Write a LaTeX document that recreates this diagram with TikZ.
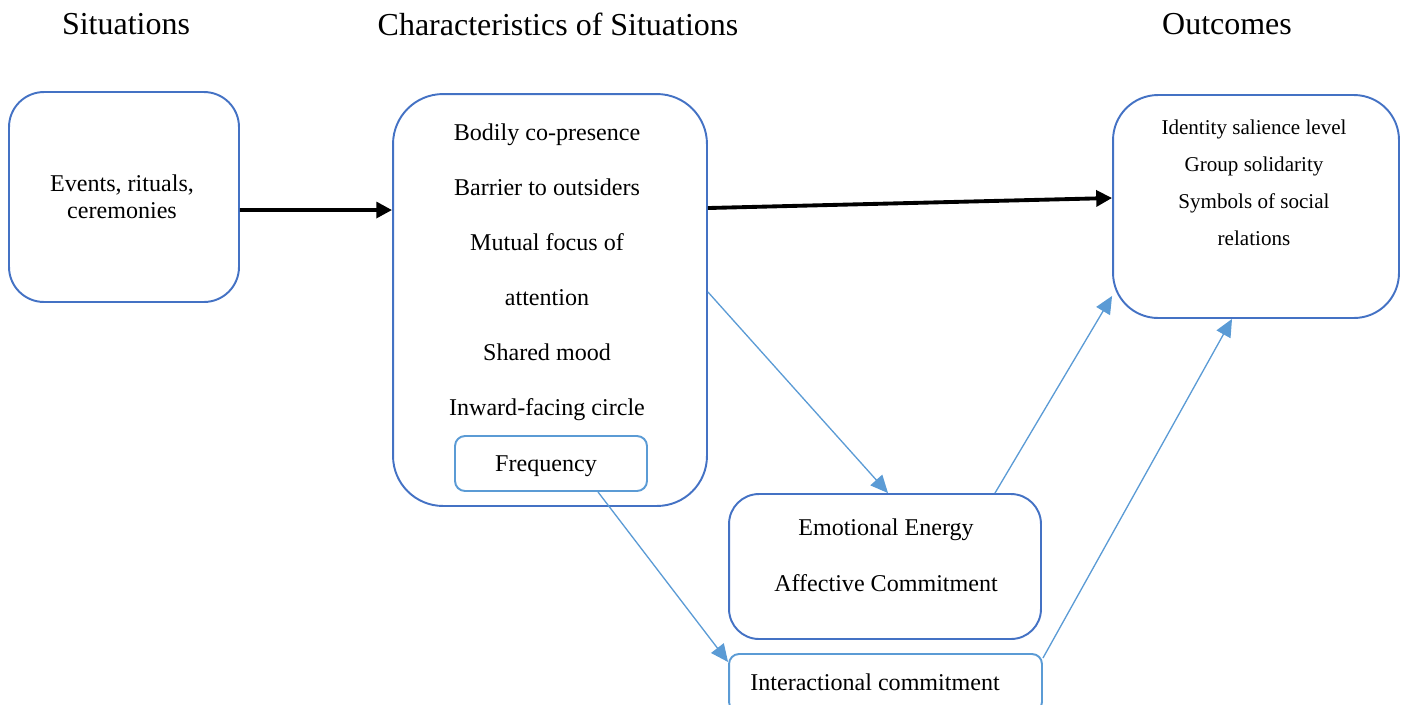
\documentclass[tikz,border=0pt]{standalone}
\usepackage{fontspec}
\setmainfont{Liberation Serif}
\usetikzlibrary{calc,arrows.meta}
\definecolor{boxblue}{RGB}{68,114,196}
\definecolor{lightblue}{RGB}{91,155,213}

\begin{document}
\begin{tikzpicture}[x=0.02cm, y=-0.02cm,
    box/.style={draw=boxblue, line width=1.1pt, inner sep=0pt},
    smallbox/.style={draw=lightblue, line width=1.1pt, inner sep=0pt, rounded corners=0.2cm},
    title/.style={font=\fontsize{18.2}{20}\selectfont},
    thick arrow/.style={line width=2.2pt, -{Triangle[length=9pt,width=9pt]}},
    thin arrow/.style={draw=lightblue, line width=0.75pt, -{Triangle[length=10pt,width=9pt]}}]
  \useasboundingbox (0,0) rectangle (1405,704);

  \node[title] (t1) at (126,24) {Situations};
  \node[title] (t2) at (558,24) {Characteristics of Situations};
  \node[title] (t3) at (1227,24) {Outcomes};

  \node[box, rounded corners=0.7cm, minimum width=4.6cm, minimum height=4.2cm] (sit) at (124,197) {};
  \node[box, rounded corners=1cm, minimum width=6.28cm, minimum height=8.24cm] (char) at (550,300) {};
  \node[smallbox, minimum width=3.84cm, minimum height=1.1cm] (freq) at (551,463.5) {};
  \node[box, rounded corners=0.9cm, minimum width=5.72cm, minimum height=4.46cm] (out) at (1256,206.5) {};
  \node[box, rounded corners=0.6cm, minimum width=6.24cm, minimum height=2.9cm] (emo) at (885,566.5) {};
  \node[smallbox, minimum width=6.26cm, minimum height=1.16cm] (inter) at (885.5,683) {};

  \node[align=center, font=\fontsize{13.7}{15.4}\selectfont] (sittext) at (122,196.5) {Events, rituals,\\ceremonies};
  \node[align=center, font=\fontsize{13.7}{31.3}\selectfont] (chartext) at (547,272.5) {Bodily co-presence\\Barrier to outsiders\\Mutual focus of\\attention\\Shared mood\\Inward-facing circle};
  \node[font=\fontsize{13.7}{15}\selectfont] (freqtext) at (546,466) {Frequency};
  \node[align=center, font=\fontsize{12}{21}\selectfont] (outtext) at (1254,182.5) {Identity salience level\\Group solidarity\\Symbols of social\\relations};
  \node[align=center, font=\fontsize{13.7}{31.9}\selectfont] (emotext) at (886,555.5) {Emotional Energy\\Affective Commitment};
  \node[font=\fontsize{13.7}{15}\selectfont] (intertext) at (875,682) {Interactional commitment};

  % main flow
  \draw[thick arrow] ([yshift=-0.26cm]sit.east) -- ([yshift=1.8cm]char.west);
  \draw[thick arrow] ([yshift=1.84cm]char.east) -- ([yshift=0.17cm]out.west);

  % commitments
  \draw[thin arrow] ([yshift=0.16cm]char.east) -- ([xshift=0.06cm]emo.north);
  \draw[thin arrow] ([xshift=0.94cm]freq.south) -- ([yshift=0.42cm]inter.west);
  \draw[thin arrow] ([xshift=2.2cm]emo.north) -- ([yshift=0.46cm]out.south west);
  \draw[thin arrow] ([yshift=-0.1cm]inter.north east) -- ([xshift=-0.48cm]out.south);
\end{tikzpicture}
\end{document}
